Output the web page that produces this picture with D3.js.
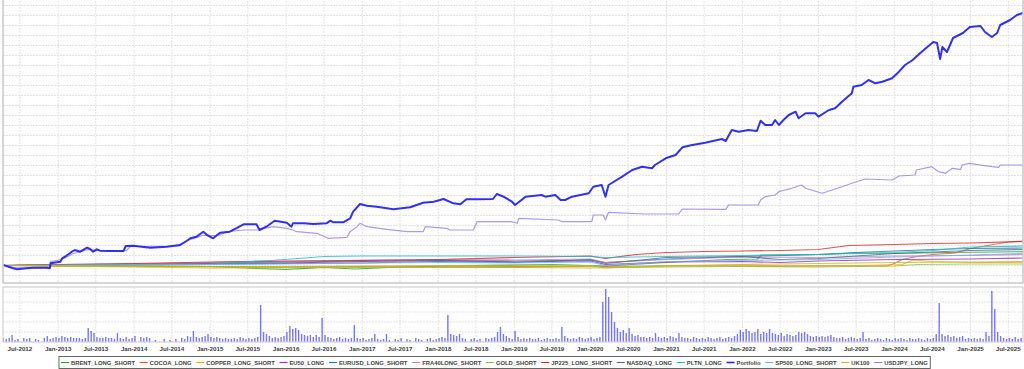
<!DOCTYPE html>
<html>
<head>
<meta charset="utf-8">
<script src="https://cdn.jsdelivr.net/npm/d3@7"></script>
<style>
  body { margin: 0; background: #fff; }
  svg { display: block; font-family: "Liberation Sans", Arial, sans-serif; }
  .grid line { stroke: #e2e2e2; stroke-width: 1; stroke-dasharray: 2,1; }
  .tick-label { font-size: 6.2px; font-weight: bold; fill: #3c3c3c; }
  .legend-label { font-size: 5.85px; font-weight: bold; fill: #444; }
</style>
</head>
<body>
<svg id="chart" width="1024" height="369"></svg>
<script>
// dates are decimal years, values in thousands (P&L)
var portfolio = [
  [2012.28, 0.5], [2012.41, -2.8], [2012.46, -3.8], [2012.59, -2.8], [2012.67, -2.2], [2012.85, -2.2],
  [2012.89, -2.8], [2012.90, 2.2], [2013.03, 3.8], [2013.05, 7.2], [2013.09, 8.8], [2013.18, 13.8],
  [2013.22, 15.5], [2013.29, 13.8], [2013.38, 17.8], [2013.42, 16.5], [2013.46, 13.8], [2013.51, 16.2],
  [2013.55, 14.8], [2013.68, 14.5], [2013.86, 14.5], [2013.89, 19.5], [2013.99, 19.8], [2014.21, 17.8],
  [2014.43, 18.8], [2014.60, 20.5], [2014.69, 24.5], [2014.74, 27.2], [2014.82, 28.8], [2014.91, 33.8],
  [2014.96, 30.5], [2015.04, 27.2], [2015.13, 32.8], [2015.26, 33.8], [2015.44, 41.2], [2015.61, 41.2],
  [2015.65, 35.5], [2015.74, 38.8], [2015.85, 44.8], [2016.01, 42.8], [2016.07, 38.8], [2016.09, 42.2],
  [2016.23, 42.2], [2016.36, 41.5], [2016.53, 42.2], [2016.58, 44.8], [2016.62, 43.2], [2016.75, 43.2],
  [2016.84, 47.2], [2016.88, 53.8], [2016.97, 61.5], [2017.06, 59.8], [2017.19, 58.8], [2017.41, 56.2],
  [2017.63, 58.2], [2017.80, 62.8], [2017.94, 63.8], [2018.07, 66.5], [2018.20, 62.2], [2018.29, 61.2],
  [2018.37, 66.2], [2018.51, 66.2], [2018.72, 66.5], [2018.77, 71.5], [2018.86, 68.8], [2018.97, 63.8],
  [2019.01, 60.5], [2019.15, 68.8], [2019.36, 70.5], [2019.41, 68.8], [2019.54, 70.5], [2019.61, 65.5],
  [2019.67, 65.5], [2019.76, 68.8], [2019.98, 72.2], [2020.04, 78.8], [2020.15, 80.5], [2020.20, 68.8],
  [2020.24, 80.5], [2020.42, 88.8], [2020.55, 95.5], [2020.68, 98.8], [2020.81, 97.2], [2020.85, 100.5],
  [2020.99, 107.2], [2021.12, 110.5], [2021.21, 118.2], [2021.34, 120.5], [2021.51, 122.8], [2021.73, 126.5],
  [2021.78, 124.5], [2021.86, 135.5], [2021.95, 133.8], [2022.08, 135.5], [2022.19, 134.5], [2022.24, 144.8],
  [2022.30, 140.5], [2022.39, 140.5], [2022.43, 145.5], [2022.48, 140.5], [2022.54, 145.5], [2022.61, 150.5],
  [2022.70, 153.8], [2022.74, 147.2], [2022.83, 152.2], [2022.96, 152.2], [2023.00, 148.8], [2023.14, 155.5],
  [2023.22, 157.2], [2023.31, 163.8], [2023.44, 172.2], [2023.46, 178.8], [2023.57, 180.5], [2023.66, 185.5],
  [2023.75, 182.2], [2023.84, 183.8], [2023.97, 187.2], [2024.06, 193.8], [2024.14, 200.5], [2024.24, 205.5],
  [2024.34, 212.5], [2024.51, 223.5], [2024.56, 222.5], [2024.60, 206.5], [2024.63, 218.5], [2024.69, 213.5],
  [2024.77, 227.5], [2024.90, 232.5], [2024.99, 238.5], [2025.13, 239.5], [2025.19, 233.5], [2025.28, 228.5],
  [2025.35, 232.5], [2025.39, 240.5], [2025.52, 245.5], [2025.61, 250.5], [2025.69, 252.5]
];

var usdjpy = [
  [2012.28, 0.5], [2012.41, -2.0], [2012.60, -2.5], [2012.89, -2.5], [2012.90, 3.8], [2013.05, 6],
  [2013.20, 12], [2013.40, 16], [2013.55, 15], [2013.90, 15], [2013.95, 19], [2014.60, 19.5],
  [2014.70, 25], [2014.90, 30], [2015.10, 30], [2015.25, 34], [2015.44, 35.5], [2015.61, 35.5],
  [2015.83, 38.8], [2016.01, 37.2], [2016.09, 35.5], [2016.14, 33.8], [2016.40, 32.2], [2016.51, 28.8],
  [2016.55, 27.2], [2016.80, 28.2], [2016.84, 33.8], [2016.93, 38.8], [2016.97, 42.2], [2017.06, 38.8],
  [2017.32, 36.2], [2017.59, 33.8], [2017.80, 33.8], [2017.83, 38.8], [2018.11, 37.2], [2018.15, 35.5],
  [2018.46, 35.5], [2018.51, 43.8], [2018.97, 43.8], [2019.04, 42.2], [2019.06, 47.2], [2019.58, 45.5],
  [2019.63, 43.8], [2020.02, 43.8], [2020.04, 50.5], [2020.17, 50.5], [2020.20, 45.5], [2020.24, 53.2],
  [2020.72, 51.5], [2021.16, 51.5], [2021.21, 56.5], [2021.78, 56.2], [2021.82, 60.5], [2022.21, 60.5],
  [2022.24, 65.5], [2022.30, 68.8], [2022.43, 70.5], [2022.48, 73.8], [2022.56, 75.5], [2022.65, 77.2],
  [2022.78, 80.5], [2022.83, 77.2], [2022.98, 73.8], [2023.05, 72.2], [2023.18, 75.5], [2023.31, 78.8],
  [2023.44, 82.2], [2023.62, 86.5], [2023.97, 85.5], [2024.06, 89.5], [2024.27, 90.5], [2024.29, 95.5],
  [2024.49, 98.8], [2024.58, 93.8], [2024.67, 92.2], [2024.76, 97.2], [2024.87, 96.2], [2024.89, 100.5],
  [2024.98, 102.2], [2025.28, 98.8], [2025.37, 98.2], [2025.39, 100.5], [2025.69, 100.5]
];

var brent = [[2012.28, 0], [2013.0, 0.5], [2014.0, -0.5], [2015.0, -1], [2015.6, -3], [2016.0, -3.8], [2016.5, -2],
  [2016.9, -3.5], [2017.5, -1.5], [2018.5, 0], [2019.5, 1], [2020.2, -0.5], [2021.0, 3], [2021.8, 6], [2022.2, 6.5],
  [2022.25, 10.5], [2023.0, 11], [2023.5, 12.5], [2024.0, 12], [2024.7, 13], [2025.69, 13.8]];
var cocoa = [[2012.28, 0], [2013.5, -0.5], [2015, -1], [2016, -1.5], [2017, -1], [2018, -1.5], [2019, -1], [2020, -1],
  [2021, -0.5], [2022, -0.5], [2023, -0.5], [2023.9, -0.5], [2024.0, 2], [2024.1, 6], [2024.3, 9], [2024.5, 11],
  [2024.8, 12.5], [2025.0, 17], [2025.3, 21], [2025.5, 23.5], [2025.69, 24.5]];
var copper = [[2012.28, 0], [2013, -1], [2014, -1.5], [2015, -2.5], [2016, -2], [2017, -1.5], [2018.5, -2],
  [2019, -1.8], [2020, -0.5], [2020.2, -2.5], [2021, 0], [2022, 0.5], [2022.5, -0.5], [2023.5, 0], [2024.1, 1],
  [2024.25, 5.5], [2024.5, 4], [2025, 3], [2025.69, 3]];
var eu50 = [[2012.28, 0], [2013, 0.5], [2014, 1.5], [2015, 2], [2016, 2.5], [2017, 4], [2018, 5], [2019, 3.5],
  [2020, 4.5], [2020.2, 1], [2021, 3.5], [2022, 4], [2022.5, 3], [2023, 4.5], [2024, 6], [2025, 6.5], [2025.69, 7.5]];
var eurusd = [[2012.28, 0], [2013, 0.5], [2014, 1], [2015, 2.5], [2016, 3.5], [2017, 4.5], [2018, 5], [2019, 4.5],
  [2020, 5.5], [2020.2, 3], [2021, 6.5], [2022, 9], [2023, 11], [2023.5, 13], [2024, 14.5], [2024.5, 16],
  [2025, 17], [2025.69, 17.5]];
var fra40 = [[2012.28, 0], [2013, 1], [2014, 1.5], [2015, 3], [2016, 4], [2017, 5.5], [2018, 6], [2019, 5.5],
  [2020, 6.5], [2020.2, 3], [2021, 6], [2022, 8.5], [2023, 8], [2024, 9.5], [2025, 10], [2025.69, 11]];
var gold = [[2012.28, 0], [2013, -0.5], [2014, -0.5], [2015, -1], [2016, -1.5], [2017, -2], [2018, -1.5],
  [2019, -2], [2020, -2.5], [2021, -1.5], [2022, -1], [2023, -1.5], [2024, -0.5], [2024.3, 1], [2025, 1.5],
  [2025.69, 1.5]];
var jp225 = [[2012.28, 0], [2013, 1], [2014, 2], [2015, 3.5], [2016, 4.5], [2017, 5], [2018, 6], [2019, 8],
  [2020, 9.5], [2020.2, 7], [2020.6, 11], [2021, 13], [2021.5, 14], [2022, 14.5], [2022.5, 15], [2023, 16],
  [2023.4, 20], [2024, 21], [2024.5, 22], [2025, 22.5], [2025.69, 24]];
var nasdaq = [[2012.28, 0], [2013, 0.5], [2014, 1], [2015, 1.5], [2016, 2], [2017, 2.5], [2018, 4], [2019, 3],
  [2020, 6], [2020.2, 2], [2021, 8], [2022, 9], [2022.5, 6], [2023, 7], [2024, 12], [2025, 15], [2025.69, 16]];
var pltn = [[2012.28, 0], [2013, 0], [2014, 0.5], [2015, 1.5], [2015.8, 5], [2016.5, 9], [2017, 9.5],
  [2018, 9.5], [2019, 9.5], [2020, 9], [2020.2, 8], [2021, 9], [2022, 10], [2023, 11], [2024, 13],
  [2024.5, 15], [2025, 18.5], [2025.69, 19.5]];
var sp500 = [[2012.28, 0], [2013, 0.5], [2014, 1], [2015, 1], [2016, 1.5], [2017, 2.5], [2018, 3], [2019, 2.5],
  [2020, 3.5], [2020.2, 0], [2021, 4], [2022, 5], [2023, 6], [2024, 8.5], [2025, 10.5], [2025.69, 12]];
var uk100 = [[2012.28, 0], [2013, 0], [2014, -0.5], [2015, -1.5], [2016, -1], [2017, -0.5], [2018, 0],
  [2019, 0.5], [2020, 0], [2020.2, -2], [2021, -0.5], [2022, 1], [2023, 2], [2024, 3], [2025, 3.5], [2025.69, 4]];

// lower panel: one value per 1/26 year starting 2012.28
var barsStart = 2012.28;
var barsPerYear = 26;
var barValues = [
  4,3,4,7,2,3,0,4,3,4,0,3,2,0,4,6,3,4,5,4,6,5,4,5,4,4,
  4,3,4,14,11,9,5,4,4,5,4,4,3,9,4,3,5,3,4,6,0,5,4,5,4,0,
  2,0,0,3,0,2,0,3,0,4,3,6,5,11,5,4,5,6,8,5,4,5,4,3,4,3,
  3,4,3,5,4,3,4,3,4,5,37,10,8,6,4,5,4,5,6,10,16,13,14,12,8,7,
  6,7,5,7,5,24,7,5,4,3,4,5,3,4,3,4,17,4,3,4,2,3,4,8,3,2,
  3,8,2,0,3,2,4,0,3,2,0,4,3,2,0,3,4,2,3,4,5,4,27,8,7,6,
  8,4,3,0,3,4,2,3,0,4,3,4,5,10,15,8,6,4,3,11,5,3,4,3,4,3,
  3,4,2,3,4,3,3,4,3,15,6,4,3,4,3,5,4,3,4,5,3,4,5,40,53,45,
  30,20,14,10,12,9,14,8,6,7,5,5,4,5,4,9,5,4,5,4,6,5,4,9,5,4,
  4,3,5,4,3,4,3,5,4,3,4,5,3,4,5,4,6,8,12,10,13,11,9,10,13,8,
  10,9,13,9,8,7,9,6,8,7,6,7,10,9,10,8,6,5,6,5,6,5,6,7,5,4,
  4,5,3,4,5,4,3,4,10,3,4,2,3,4,3,2,4,3,2,4,3,4,3,2,4,3,
  3,4,3,2,4,3,4,8,39,8,6,7,5,6,4,5,6,3,4,3,4,3,4,3,10,6,
  51,33,10,6,4,3,4,3,5,3,4
];

var seriesNames = ["BRENT_LONG_SHORT", "COCOA_LONG", "COPPER_LONG_SHORT", "EU50_LONG", "EURUSD_LONG_SHORT",
  "FRA40LONG_SHORT", "GOLD_SHORT", "JP225_LONG_SHORT", "NASDAQ_LONG", "PLTN_LONG", "Portfolio",
  "SP500_LONG_SHORT", "UK100", "USDJPY_LONG"];
var seriesData = [brent, cocoa, copper, eu50, eurusd, fra40, gold, jp225, nasdaq, pltn, portfolio, sp500, uk100, usdjpy];
var seriesColors = ["#2ca02c", "#e8562a", "#ffa600", "#9c27b0", "#1f77b4", "#e377c2", "#8bc34a", "#d62728",
  "#546e7a", "#17becf", "#2626f0", "#64b5f6", "#bcbd22", "#9a7ee6"];

// decimal year -> Date
function yd(t) {
    var y = Math.floor(t);
    var s = new Date(y, 0, 1), e = new Date(y + 1, 0, 1);
    return new Date(+s + (t - y) * (e - s));
}

var svg = d3.select("#chart");
var left = 3, right = 1023;
var mainTop = -2, mainBottom = 283;
var lowTop = 287, lowBottom = 342;

var x = d3.scaleTime().domain([yd(2012.276), yd(2025.69)]).range([left, right]);
var y = d3.scaleLinear().domain([-17.5, 265.5]).range([mainBottom, 0]);
var y2 = d3.scaleLinear().domain([0, 55]).range([lowBottom, lowTop]);

var xTicks = d3.timeMonth.every(6).range(yd(2012.4), yd(2025.7));
var fmt = d3.timeFormat("%b-%Y");

svg.append("clipPath").attr("id", "clipMain")
    .append("rect").attr("x", left).attr("y", mainTop).attr("width", right - left).attr("height", mainBottom - mainTop);
svg.append("clipPath").attr("id", "clipLow")
    .append("rect").attr("x", left).attr("y", lowTop).attr("width", right - left).attr("height", lowBottom - lowTop);

// grids
var gMain = svg.append("g").attr("class", "grid");
gMain.selectAll("line.v").data(xTicks).enter().append("line")
    .attr("x1", function(d) { return x(d); }).attr("x2", function(d) { return x(d); })
    .attr("y1", mainTop).attr("y2", mainBottom);
gMain.selectAll("line.h").data(d3.range(-10, 266, 10)).enter().append("line")
    .attr("x1", left).attr("x2", right)
    .attr("y1", function(d) { return y(d); }).attr("y2", function(d) { return y(d); });

var gLow = svg.append("g").attr("class", "grid");
gLow.selectAll("line.v").data(xTicks).enter().append("line")
    .attr("x1", function(d) { return x(d); }).attr("x2", function(d) { return x(d); })
    .attr("y1", lowTop).attr("y2", lowBottom);
gLow.selectAll("line.h").data([10, 20, 30, 40, 50]).enter().append("line")
    .attr("x1", left).attr("x2", right)
    .attr("y1", function(d) { return y2(d); }).attr("y2", function(d) { return y2(d); });

// lines
var line = d3.line()
    .x(function(d) { return x(yd(d[0])); })
    .y(function(d) { return y(d[1]); });

var linesG = svg.append("g").attr("clip-path", "url(#clipMain)");
var order = [0, 1, 2, 3, 4, 5, 6, 7, 8, 9, 11, 12, 13, 10];
order.forEach(function(i) {
    var isPort = seriesNames[i] === "Portfolio";
    linesG.append("path")
        .datum(seriesData[i])
        .attr("fill", "none")
        .attr("stroke", seriesColors[i])
        .attr("stroke-width", isPort ? 2 : 1.2)
        .attr("stroke-opacity", isPort ? 0.95 : 0.8)
        .attr("stroke-linejoin", "round")
        .attr("d", line);
});

// lower panel bars
var barsG = svg.append("g").attr("clip-path", "url(#clipLow)");
barsG.selectAll("rect").data(barValues).enter().append("rect")
    .attr("x", function(d, i) { return x(yd(barsStart + i / barsPerYear)) - 0.7; })
    .attr("width", 1.4)
    .attr("y", function(d) { return y2(d); })
    .attr("height", function(d) { return lowBottom - y2(d); })
    .attr("fill", "#1a1aff")
    .attr("fill-opacity", 0.6);

// panel borders
svg.append("rect").attr("x", left).attr("y", mainTop).attr("width", right - left).attr("height", mainBottom - mainTop)
    .attr("fill", "none").attr("stroke", "#c8c8c8").attr("stroke-width", 1.5);
svg.append("rect").attr("x", left).attr("y", lowTop).attr("width", right - left).attr("height", lowBottom - lowTop)
    .attr("fill", "none").attr("stroke", "#d0d0d0").attr("stroke-width", 1.2);

// x tick labels
svg.append("g").selectAll("text").data(xTicks).enter().append("text")
    .attr("class", "tick-label")
    .attr("x", function(d) { return x(d); })
    .attr("y", 350.8)
    .attr("text-anchor", "middle")
    .text(fmt);

// legend
var legend = svg.append("g");
var legBox = legend.append("rect")
    .attr("y", 356.5).attr("height", 12)
    .attr("fill", "#fff").attr("stroke", "#555").attr("stroke-width", 0.9);
var lx = 61;
seriesNames.forEach(function(name, i) {
    legend.append("line")
        .attr("x1", lx).attr("x2", lx + 8).attr("y1", 362.5).attr("y2", 362.5)
        .attr("stroke", seriesColors[i])
        .attr("stroke-width", name === "Portfolio" ? 1.6 : 1.1);
    var t = legend.append("text")
        .attr("class", "legend-label")
        .attr("x", lx + 10).attr("y", 364.6)
        .text(name);
    lx += 10 + t.node().getComputedTextLength() + 4.7;
});
legBox.attr("x", 59).attr("width", lx - 4.7 + 2.5 - 59);
</script>
</body>
</html>
